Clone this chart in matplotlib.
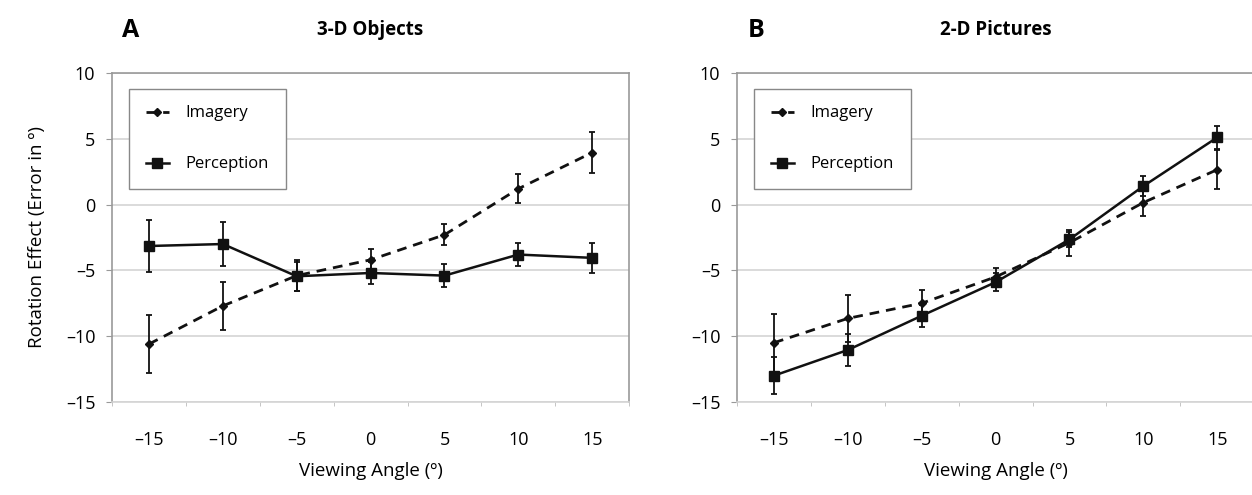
import numpy as np
import matplotlib.pyplot as plt
from matplotlib.lines import Line2D

plt.rcParams['font.family'] = ['Open Sans', 'DejaVu Sans']

# viewing angles (categories)
angles = [-15, -10, -5, 0, 5, 10, 15]

# A: 3-D objects
img_a = [-10.6, -7.7, -5.4, -4.2, -2.3, 1.2, 3.95]
img_a_err = [2.2, 1.8, 1.2, 0.8, 0.8, 1.1, 1.55]
per_a = [-3.15, -3.0, -5.45, -5.2, -5.4, -3.8, -4.05]
per_a_err = [2.0, 1.65, 1.1, 0.8, 0.85, 0.9, 1.15]

# B: 2-D pictures
img_b = [-10.5, -8.65, -7.5, -5.5, -2.9, 0.15, 2.65]
img_b_err = [2.2, 1.8, 1.0, 0.7, 1.0, 1.0, 1.5]
per_b = [-13.0, -11.05, -8.45, -5.9, -2.65, 1.4, 5.1]
per_b_err = [1.4, 1.2, 0.85, 0.7, 0.6, 0.75, 0.9]

fig = plt.figure(figsize=(12.52, 4.95), dpi=100)
ax1 = fig.add_axes([0.0895, 0.188, 0.413, 0.6646])
ax2 = fig.add_axes([0.5887, 0.188, 0.413, 0.6646])

x = np.arange(len(angles))
dash = (0, (3.5, 2.5))


def draw(ax, img, img_err, per, per_err, letter, title, ylabel):
    ax.errorbar(x, img, yerr=img_err, color='#111111', linestyle=dash, lw=2,
                marker='D', markersize=4.5, ecolor='#111111', elinewidth=1.3,
                capsize=2.5, capthick=1.3, zorder=3)
    ax.errorbar(x, per, yerr=per_err, color='#111111', linestyle='-', lw=1.8,
                marker='s', markersize=7, ecolor='#111111', elinewidth=1.3,
                capsize=2.5, capthick=1.3, zorder=4)
    ax.set_xlim(-0.5, 6.5)
    ax.set_ylim(-15, 10)
    ax.set_yticks([-15, -10, -5, 0, 5, 10])
    ax.set_yticklabels([str(v).replace('-', '\u2013') for v in [-15, -10, -5, 0, 5, 10]])
    ax.set_xticks(x)
    ax.set_xticklabels([str(a).replace('-', '\u2013') for a in angles])
    ax.set_xticks(np.arange(-0.5, 7, 1), minor=True)
    ax.tick_params(axis='x', which='major', length=0, pad=21, labelsize=13)
    ax.tick_params(axis='x', which='minor', length=3, color='#bbbbbb')
    ax.tick_params(axis='y', length=4, color='#999999', labelsize=13, pad=8)
    ax.yaxis.grid(True, color='#d4d4d4', lw=1.2)
    ax.set_axisbelow(True)
    for s in ['left', 'top', 'right']:
        ax.spines[s].set_color('#999999')
        ax.spines[s].set_linewidth(1.2)
    ax.spines['bottom'].set_color('#d4d4d4')
    ax.spines['bottom'].set_linewidth(1.2)
    ax.set_xlabel('Viewing Angle (º)', fontsize=13.5, labelpad=9)
    if ylabel:
        ax.set_ylabel('Rotation Effect (Error in º)', fontsize=13.5, labelpad=14)
    handles = [Line2D([], [], color='#111111', linestyle=dash, lw=2, marker='D', markersize=4.5),
               Line2D([], [], color='#111111', linestyle='-', lw=1.8, marker='s', markersize=7)]
    leg = ax.legend(handles, ['Imagery', 'Perception'], loc='upper left',
                    bbox_to_anchor=(0.033, 0.952), fontsize=12,
                    labelspacing=2.1, handlelength=1.4, handletextpad=1.0,
                    borderpad=1.0, borderaxespad=0,
                    fancybox=False, framealpha=1, edgecolor='#888888')
    leg.get_frame().set_linewidth(1.0)
    ax.text(0.02, 1.13, letter, transform=ax.transAxes, fontsize=18,
            fontweight='bold', ha='left', va='center')
    ax.text(0.5, 1.13, title, transform=ax.transAxes, fontsize=13.5,
            fontweight='bold', ha='center', va='center')


draw(ax1, img_a, img_a_err, per_a, per_a_err, 'A', '3-D Objects', True)
draw(ax2, img_b, img_b_err, per_b, per_b_err, 'B', '2-D Pictures', False)

fig.savefig('out.png', dpi=100)
